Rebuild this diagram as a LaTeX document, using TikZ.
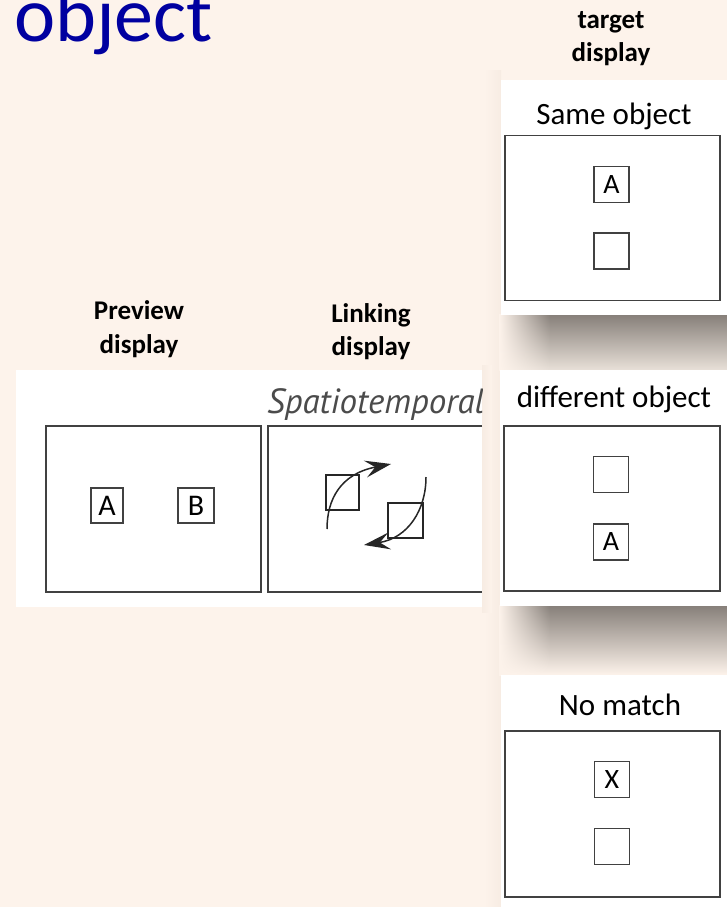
\documentclass[tikz,border=0pt]{standalone}
\usepackage{fontspec}
\setmainfont{Carlito}
\newfontfamily\spfont{PT Sans}
\usetikzlibrary{arrows.meta,fadings}
\definecolor{bg}{RGB}{253,243,235}
\definecolor{titleblue}{RGB}{0,0,160}
\definecolor{boxline}{RGB}{65,65,65}
\definecolor{shadowc}{RGB}{135,128,122}
\definecolor{shadowend}{RGB}{232,224,216}
\definecolor{sideshadow}{RGB}{247,236,227}
\definecolor{spgray}{RGB}{75,75,75}
\tikzfading[name=fadetoright, left color=transparent!0, right color=transparent!100]
\begin{document}
\begin{tikzpicture}[x=1pt,y=-1pt,
  hdr/.style={font=\fontsize{27}{33}\bfseries\selectfont, inner sep=0, anchor=base},
  lbl/.style={font=\fontsize{31}{36}\selectfont, inner sep=0, anchor=base},
  bigbox/.style={draw=boxline, line width=1.8pt, minimum width=215, minimum height=165, inner sep=0},
  smallbox/.style={draw=boxline, line width=1.5pt, minimum width=35, minimum height=36, inner sep=0, font=\fontsize{28}{30}\selectfont},
  panel/.style={fill=white},
  arc/.style={line width=1.5pt, draw=black!85, -{Stealth[length=26pt,width=17pt,inset=10pt]}}
]
\useasboundingbox (0,0) rectangle (727,907);
\fill[bg] (0,0) rectangle (727,907);

% side shadows
\fill[right color=sideshadow, left color=bg] (484,70) rectangle (501,907);
\fill[left color=sideshadow, right color=bg] (482,365) rectangle (492,612);

% drop shadows under right panels
\fill[top color=shadowc, bottom color=shadowend] (500,315) rectangle (727,370);
\fill[bg, path fading=fadetoright] (499,314) rectangle (550,371);
\fill[top color=shadowc, bottom color=bg] (500,606) rectangle (727,675);
\fill[bg, path fading=fadetoright] (499,605) rectangle (550,676);

% title
\node[anchor=base west, inner sep=0, text=titleblue, font=\fontsize{78}{84}\selectfont] (title) at (14,42) {object};

% header labels
\node[hdr] (tgt1) at (611,29) {target};
\node[hdr] (tgt2) at (611,62) {display};
\node[hdr] (prev1) at (139,319) {Preview};
\node[hdr] (prev2) at (139,353) {display};
\node[hdr] (link1) at (371,322) {Linking};
\node[hdr] (link2) at (371,355) {display};

% white panels
\fill[panel] (501,80) rectangle (727,315);
\fill[panel] (500,370) rectangle (727,606);
\fill[panel] (501,675) rectangle (727,907);
\fill[panel] (16,370) rectangle (482,607);

% right panel 1
\node[lbl] (same) at (614,124) {Same object};
\node[bigbox] (t1) at (612.5,218) {};
\node[smallbox] (t1a) at (611.5,184.5) {A};
\node[smallbox] (t1b) at (611.5,251) {};

% right panel 2
\node[lbl] (diff) at (614,407) {different object};
\node[bigbox, minimum width=216] (t2) at (612,508.5) {};
\node[smallbox] (t2a) at (611,474.5) {};
\node[smallbox] (t2b) at (611,542) {A};

% right panel 3
\node[lbl] (nomatch) at (620,715) {No match};
\node[bigbox, minimum height=166] (t3) at (612.5,814) {};
\node[smallbox] (t3a) at (612,779.5) {X};
\node[smallbox] (t3b) at (612,846.5) {};

% preview display
\node[bigbox, minimum height=166] (pv) at (153.5,509) {};
\node[smallbox, minimum width=32, minimum height=35, font=\fontsize{30}{32}\selectfont] (pa) at (107,505.5) {A};
\node[smallbox, minimum width=36, minimum height=35, font=\fontsize{30}{32}\selectfont] (pb) at (196,505.5) {B};

% linking display
\begin{scope}
\clip (16,370) rectangle (482,607);
\node[anchor=base west, inner sep=0, text=spgray, font=\fontsize{35}{38}\spfont\itshape] (spt) at (267,413) {Spatiotemporal};
\end{scope}
\coordinate (lk1) at (482,426);
\coordinate (lk2) at (268,426);
\coordinate (lk3) at (268,592);
\coordinate (lk4) at (482,592);
\draw[boxline, line width=1.8pt] (lk1) -- (lk2) -- (lk3) -- (lk4);

\node[draw=black!85, line width=1.2pt, minimum width=33, minimum height=35, inner sep=0] (sq1) at (342.5,492.5) {};
\node[draw=black!85, line width=1.2pt, minimum width=35, minimum height=35, inner sep=0] (sq2) at (405.5,520.5) {};

\coordinate (a1s) at (327,529);
\coordinate (a1e) at (391,464);
\coordinate (a2s) at (426,477);
\coordinate (a2e) at (364,545);
\draw[arc] (a1s) .. controls (327,500) and (340,474) .. (a1e);
\draw[arc] (a2s) .. controls (426,510) and (408,538) .. (a2e);
\end{tikzpicture}
\end{document}
